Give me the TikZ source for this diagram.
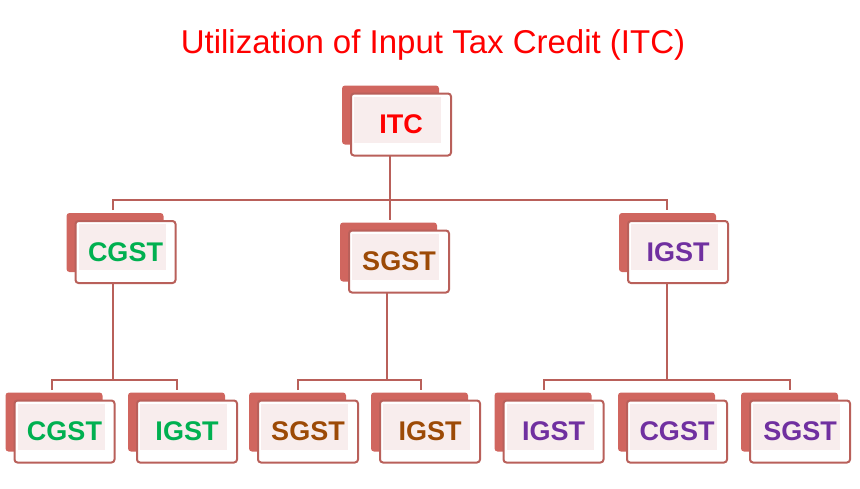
\documentclass[tikz,border=0pt]{standalone}
\usepackage{fontspec}
\setmainfont{Liberation Sans}
\definecolor{ln}{HTML}{B9605A}
\definecolor{bk}{HTML}{D0665F}
\definecolor{pk}{HTML}{F8EDED}
\definecolor{cg}{HTML}{00B050}
\definecolor{cs}{HTML}{9C4A06}
\definecolor{ci}{HTML}{7030A0}
\tikzset{
  front/.style={draw=ln, line width=2pt, fill=white, rounded corners=3pt, minimum width=100pt, minimum height=62pt, inner sep=0pt},
  lbl/.style={font=\bfseries\fontsize{27}{30}\selectfont},
  conn/.style={draw=ln, line width=2pt}
}
\newcommand\gbox[5]{%
  \fill[bk, rounded corners=3pt] (#2-59,#3-39) rectangle ++(97,59);
  \node[front] (#1) at (#2,#3) {};
  \fill[pk] (#2-47,#3-28) rectangle (#2+40,#3+18);
  \node[lbl, text=#5] at (#2,#3) {#4};
}
\begin{document}
\begin{tikzpicture}[x=1pt,y=-1pt]
\useasboundingbox (0,0) rectangle (860,488);
\node[text=red, font=\fontsize{33}{38}\selectfont] (title) at (433,45) {Utilization of Input Tax Credit (ITC)};
\gbox{itc}{401}{124.5}{ITC}{red}
\gbox{c1}{125.5}{252}{CGST}{cg}
\gbox{s1}{399}{261.5}{SGST}{cs}
\gbox{i1}{678}{252}{IGST}{ci}
\gbox{a}{64.5}{431.5}{CGST}{cg}
\gbox{b}{187}{431.5}{IGST}{cg}
\gbox{c}{308}{431.5}{SGST}{cs}
\gbox{d}{430}{431.5}{IGST}{cs}
\gbox{e}{553.5}{431.5}{IGST}{ci}
\gbox{f}{677}{431.5}{CGST}{ci}
\gbox{g}{800}{431.5}{SGST}{ci}
\coordinate (itcb) at (390,156);
\draw[conn] (itcb) -- (390,200) (113,210) |- (667,200) -- (667,210) (390,200) -- (390,220);
\coordinate (c1b) at (113,283);
\draw[conn] (c1b) -- (113,380) (52,390) |- (177,380) -- (177,390);
\coordinate (s1b) at (387,293);
\draw[conn] (s1b) -- (387,380) (298,390) |- (421,380) -- (421,390);
\coordinate (i1b) at (667,283);
\draw[conn] (i1b) -- (667,380) (544,390) |- (790,380) -- (790,390);
\end{tikzpicture}
\end{document}
